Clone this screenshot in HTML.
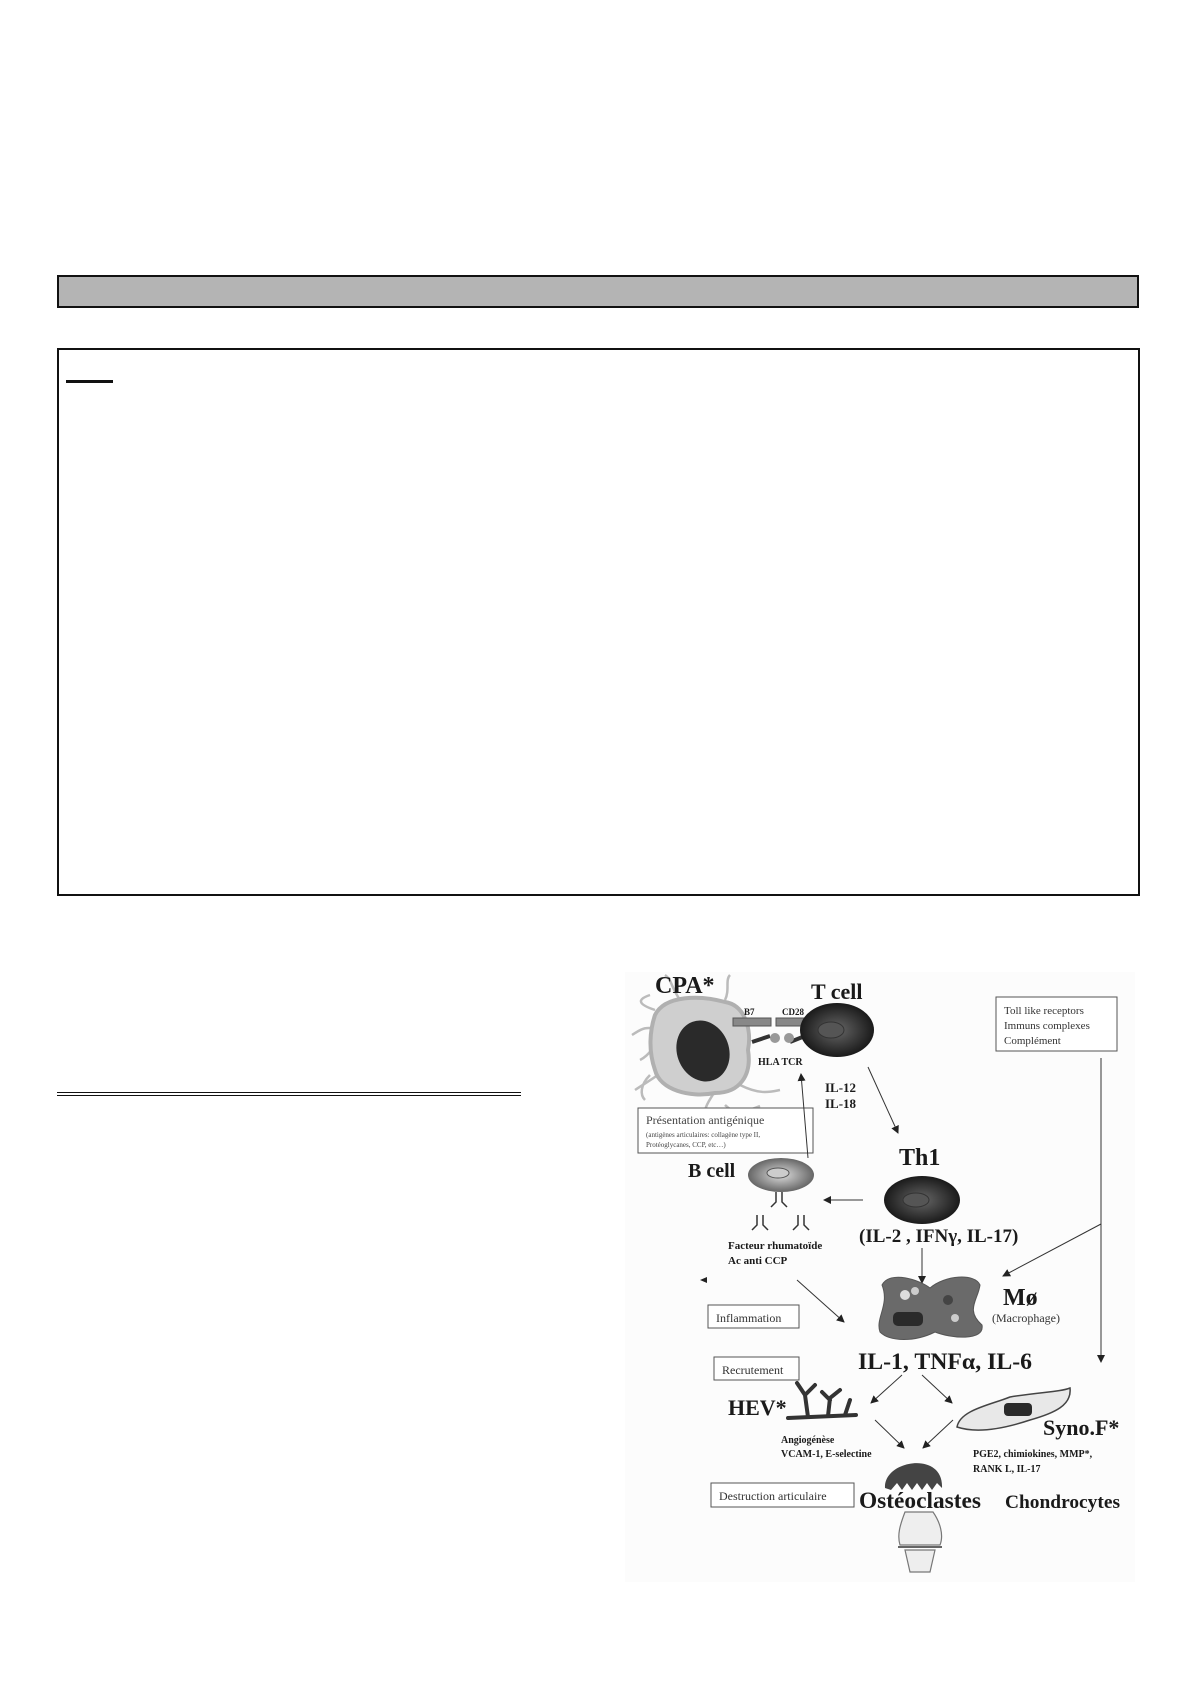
<!DOCTYPE html>
<html><head><meta charset="utf-8"><style>
html,body{margin:0;padding:0;background:#fff;}
body{width:1190px;height:1684px;position:relative;overflow:hidden;font-family:"Liberation Serif",serif;}
</style></head><body>
<div style="position:absolute;left:57px;top:275px;width:1082px;height:33px;background:#b4b4b4;border:2px solid #111;box-sizing:border-box;"></div>
<div style="position:absolute;left:57px;top:348px;width:1083px;height:548px;border:2px solid #111;box-sizing:border-box;"></div>
<div style="position:absolute;left:66px;top:380px;width:47px;height:3px;background:#111;"></div>
<div style="position:absolute;left:57px;top:1092px;width:464px;height:1px;background:#111;"></div>
<div style="position:absolute;left:57px;top:1095px;width:464px;height:1px;background:#111;"></div>
<svg width="1190" height="1684" style="position:absolute;left:0;top:0" xmlns="http://www.w3.org/2000/svg">
<defs>
<radialGradient id="tc" cx="50%" cy="50%" r="50%"><stop offset="0" stop-color="#666"/><stop offset="1" stop-color="#1a1a1a"/></radialGradient>
<radialGradient id="bc" cx="50%" cy="50%" r="50%"><stop offset="0" stop-color="#ddd"/><stop offset="1" stop-color="#666"/></radialGradient>
<marker id="a" markerWidth="8" markerHeight="8" refX="7" refY="4" orient="auto"><path d="M0,0 L8,4 L0,8 z" fill="#222"/></marker>
</defs>
<rect x="625" y="972" width="510" height="610" fill="#fcfcfc"/>
<g font-family="Liberation Serif,serif" font-weight="bold" fill="#1a1a1a">
<!-- CPA -->
<g stroke="#bbb" stroke-width="2.5" fill="none">
<path d="M655,1010 C640,1005 635,1000 650,995"/><path d="M640,1060 C650,1055 655,1045 660,1035"/>
<path d="M635,1090 C650,1080 660,1075 665,1068"/><path d="M725,1000 C730,990 725,980 730,975"/>
<path d="M705,1110 C708,1100 712,1098 715,1090"/><path d="M740,1085 C760,1095 770,1092 780,1090"/>
<path d="M725,1105 C735,1115 745,1112 760,1106"/><path d="M660,1030 C645,1025 640,1030 632,1035"/>
<path d="M680,1000 C670,985 672,980 665,975"/><path d="M650,1075 C640,1085 640,1095 645,1100"/>
</g>
<path d="M655,1015 C665,995 700,995 725,1002 C745,1005 752,1030 748,1050 C752,1075 740,1093 715,1093 C690,1098 660,1090 655,1070 C648,1050 650,1030 655,1015 z" fill="#cfcfcf" stroke="#b0b0b0" stroke-width="4"/>
<ellipse cx="703" cy="1051" rx="26" ry="31" transform="rotate(-20 703 1051)" fill="#2a2a2a"/>
<rect x="733" y="1018" width="38" height="8" fill="#888" stroke="#555"/>
<rect x="776" y="1018" width="36" height="8" fill="#888" stroke="#555"/>
<text x="744" y="1015" font-size="9">B7</text><text x="782" y="1015" font-size="9">CD28</text>
<path d="M752,1042 L770,1036 M805,1036 L790,1042" stroke="#333" stroke-width="4"/>
<circle cx="775" cy="1038" r="5" fill="#999"/><circle cx="789" cy="1038" r="5" fill="#999"/>
<ellipse cx="837" cy="1030" rx="37" ry="27" fill="url(#tc)"/>
<ellipse cx="831" cy="1030" rx="13" ry="8" fill="#555" stroke="#333"/>
<text x="655" y="993" font-size="24">CPA*</text>
<text x="811" y="999" font-size="22">T cell</text>
<text x="758" y="1065" font-size="10">HLA TCR</text>
<text x="825" y="1092" font-size="13">IL-12</text>
<text x="825" y="1108" font-size="13">IL-18</text>
<line x1="868" y1="1067" x2="898" y2="1133" stroke="#333" stroke-width="1" marker-end="url(#a)"/>
<rect x="638" y="1108" width="175" height="45" fill="#fff" stroke="#555"/>
<text x="646" y="1124" font-size="12" font-weight="normal" fill="#444">Présentation antigénique</text>
<text x="646" y="1137" font-size="7" font-weight="normal" fill="#444">(antigènes articulaires: collagène type II,</text>
<text x="646" y="1147" font-size="7" font-weight="normal" fill="#444">Protéoglycanes, CCP, etc…)</text>
<line x1="808" y1="1158" x2="801" y2="1074" stroke="#333" stroke-width="1" marker-end="url(#a)"/>
<text x="688" y="1177" font-size="20">B cell</text>
<ellipse cx="781" cy="1175" rx="33" ry="17" fill="url(#bc)"/>
<ellipse cx="778" cy="1173" rx="11" ry="5" fill="#ccc" stroke="#555"/>
<g stroke="#333" stroke-width="1.5" fill="none">
<path d="M776,1192 v10 l-5,5 M782,1192 v10 l5,5"/>
<path d="M757,1215 v10 l-5,5 M763,1215 v10 l5,5"/>
<path d="M798,1215 v10 l-5,5 M804,1215 v10 l5,5"/>
</g>
<line x1="863" y1="1200" x2="824" y2="1200" stroke="#333" stroke-width="1" marker-end="url(#a)"/>
<text x="899" y="1165" font-size="24">Th1</text>
<ellipse cx="922" cy="1200" rx="38" ry="24" fill="url(#tc)"/>
<ellipse cx="916" cy="1200" rx="13" ry="7" fill="#555" stroke="#333"/>
<text x="859" y="1242" font-size="19">(IL-2 , IFNγ, IL-17)</text>
<text x="728" y="1249" font-size="11">Facteur rhumatoïde</text>
<text x="728" y="1264" font-size="11">Ac anti CCP</text>
<rect x="996" y="997" width="121" height="54" fill="#fff" stroke="#555"/>
<text x="1004" y="1014" font-size="11" font-weight="normal" fill="#333">Toll like receptors</text>
<text x="1004" y="1029" font-size="11" font-weight="normal" fill="#333">Immuns complexes</text>
<text x="1004" y="1044" font-size="11" font-weight="normal" fill="#333">Complément</text>
<line x1="1101" y1="1058" x2="1101" y2="1362" stroke="#333" stroke-width="1" marker-end="url(#a)"/>
<line x1="1101" y1="1224" x2="1003" y2="1276" stroke="#333" stroke-width="1" marker-end="url(#a)"/>
<line x1="922" y1="1248" x2="922" y2="1283" stroke="#333" stroke-width="1" marker-end="url(#a)"/>
<path d="M707,1277 L700,1280 L707,1283 z" fill="#222"/>
<line x1="797" y1="1280" x2="844" y2="1322" stroke="#333" stroke-width="1" marker-end="url(#a)"/>
<path d="M882,1285 C890,1270 920,1280 930,1288 C945,1275 975,1273 980,1285 C978,1300 965,1310 982,1325 C985,1342 950,1338 935,1332 C915,1342 890,1342 880,1332 C875,1318 890,1305 882,1285 z" fill="#6a6a6a" stroke="#555"/>
<rect x="893" y="1312" width="30" height="14" rx="5" fill="#2a2a2a"/>
<circle cx="905" cy="1295" r="5" fill="#ddd"/><circle cx="915" cy="1291" r="4" fill="#ccc"/><circle cx="955" cy="1318" r="4" fill="#ccc"/><circle cx="948" cy="1300" r="5" fill="#444"/>
<text x="1003" y="1305" font-size="24">Mø</text>
<text x="992" y="1322" font-size="12" font-weight="normal" fill="#333">(Macrophage)</text>
<rect x="708" y="1305" width="91" height="23" fill="#fff" stroke="#555"/>
<text x="716" y="1322" font-size="12" font-weight="normal" fill="#333">Inflammation</text>
<text x="858" y="1369" font-size="23" textLength="174" lengthAdjust="spacingAndGlyphs">IL-1, TNFα, IL-6</text>
<rect x="714" y="1357" width="85" height="23" fill="#fff" stroke="#555"/>
<text x="722" y="1374" font-size="12" font-weight="normal" fill="#333">Recrutement</text>
<text x="728" y="1415" font-size="22">HEV*</text>
<g stroke="#333" stroke-width="4" fill="none" stroke-linecap="round">
<path d="M788,1418 L856,1415"/><path d="M808,1417 L805,1395 L797,1383 M805,1395 L815,1385"/>
<path d="M828,1416 L830,1398 L840,1390 M830,1400 L822,1392"/><path d="M845,1415 L850,1400"/>
</g>
<line x1="902" y1="1375" x2="871" y2="1403" stroke="#333" stroke-width="1" marker-end="url(#a)"/>
<line x1="922" y1="1375" x2="952" y2="1403" stroke="#333" stroke-width="1" marker-end="url(#a)"/>
<line x1="875" y1="1420" x2="904" y2="1448" stroke="#333" stroke-width="1" marker-end="url(#a)"/>
<line x1="953" y1="1420" x2="923" y2="1448" stroke="#333" stroke-width="1" marker-end="url(#a)"/>
<path d="M957,1427 C960,1410 990,1405 1010,1397 C1040,1392 1060,1392 1070,1388 C1072,1405 1055,1413 1030,1420 C1000,1430 975,1433 957,1427 z" fill="#e8e8e8" stroke="#444" stroke-width="1.5"/>
<rect x="1004" y="1403" width="28" height="13" rx="4" fill="#2a2a2a"/>
<text x="1043" y="1435" font-size="22">Syno.F*</text>
<text x="781" y="1443" font-size="10">Angiogénèse</text>
<text x="781" y="1457" font-size="10">VCAM-1, E-selectine</text>
<text x="973" y="1457" font-size="10">PGE2, chimiokines, MMP*,</text>
<text x="973" y="1472" font-size="10">RANK L, IL-17</text>
<path d="M885,1488 C883,1460 944,1450 942,1488 L937,1483 L932,1490 L927,1483 L922,1490 L917,1483 L912,1490 L907,1483 L902,1490 L897,1483 L891,1490 z" fill="#444"/>
<rect x="711" y="1483" width="143" height="24" fill="#fff" stroke="#555"/>
<text x="719" y="1500" font-size="12" font-weight="normal" fill="#333">Destruction articulaire</text>
<text x="859" y="1508" font-size="23" textLength="122" lengthAdjust="spacingAndGlyphs">Ostéoclastes</text>
<text x="1005" y="1508" font-size="19" textLength="115" lengthAdjust="spacingAndGlyphs">Chondrocytes</text>
<g stroke="#777" stroke-width="1.2" fill="#eee">
<path d="M905,1512 C900,1525 897,1535 900,1545 L940,1545 C944,1535 940,1522 933,1512 z"/>
<path d="M905,1550 L910,1572 L930,1572 L935,1550 z"/>
</g>
<line x1="898" y1="1547" x2="942" y2="1547" stroke="#333" stroke-width="1.5"/>
</g>
</svg>
</body></html>
